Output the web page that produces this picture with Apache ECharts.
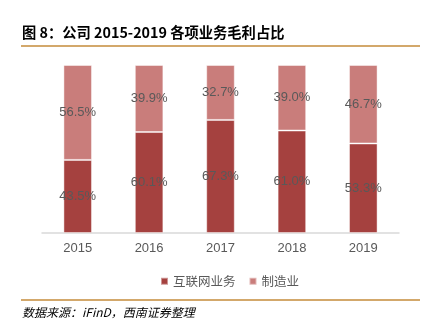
<!DOCTYPE html>
<html><head><meta charset="utf-8">
<script src="https://cdn.jsdelivr.net/npm/echarts@6/dist/echarts.min.js"></script>
<style>html,body{margin:0;padding:0;background:#fff}#c{width:423px;height:333px}</style>
</head><body><div id="c"></div>
<script>
const categories = ['2015','2016','2017','2018','2019'];
const internet = [43.5, 60.1, 67.3, 61.0, 53.3];
const manufacturing = [56.5, 39.9, 32.7, 39.0, 46.7];
const seriesNames = ['互联网业务','制造业'];
const colors = ['#a5413f', '#c97d7b'];

const chart = echarts.init(document.getElementById('c'), null, {renderer:'canvas'});
function lbl(c) {
  return {show:true, position:'inside', color:'#595959', textBorderWidth:0, textBorderColor:c,
    fontSize:13, fontFamily:'Liberation Sans, Arial, sans-serif',
    formatter: p => '{a|' + p.value.toFixed(1) + '%}',
    rich:{a:{color:'#595959', fontSize:13, fontFamily:'Liberation Sans, Arial, sans-serif', textBorderWidth:0, textBorderColor:c}}};
}
chart.setOption({
  animation:false,
  grid:{left:42, right:24, top:65, bottom:100},
  xAxis:{type:'category', data:categories, axisTick:{show:false},
    axisLine:{lineStyle:{color:'#d9d9d9', width:1.5}},
    axisLabel:{color:'#595959', fontSize:13, margin:9, fontFamily:'Liberation Sans, Arial, sans-serif'}},
  yAxis:{type:'value', min:0, max:100, show:false, splitLine:{show:false}},
  legend:{left:155, top:270, itemWidth:7, itemHeight:7, itemGap:13, icon:'rect',
    textStyle:{color:'#595959', fontSize:12.5, fontFamily:'Noto Sans CJK SC'},
    data:seriesNames},
  series:[
    {name:seriesNames[0], type:'bar', stack:'a', data:internet, barWidth:'40%',
     itemStyle:{color:colors[0], borderColor:'rgba(255,255,255,0.45)', borderWidth:1}, label:lbl(colors[0])},
    {name:seriesNames[1], type:'bar', stack:'a', data:manufacturing, barWidth:'40%',
     itemStyle:{color:colors[1], borderColor:'rgba(255,255,255,0.45)', borderWidth:1}, label:lbl(colors[1])}
  ],
  graphic:[
    {type:'text', left:22, top:25, style:{text:'图 8：公司 2015-2019 各项业务毛利占比', fill:'#000', font:'bold 14.3px "Noto Sans CJK SC"'}},
    {type:'rect', shape:{x:21, y:45, width:399, height:2}, style:{fill:'#d3a86b'}},
    {type:'rect', shape:{x:21, y:299, width:399, height:2}, style:{fill:'#d3a86b'}},
    {type:'text', left:22, top:306, style:{text:'数据来源：iFinD，西南证券整理', fill:'#000', font:'italic 12px "Noto Sans CJK SC"'}}
  ]
});
</script></body></html>
